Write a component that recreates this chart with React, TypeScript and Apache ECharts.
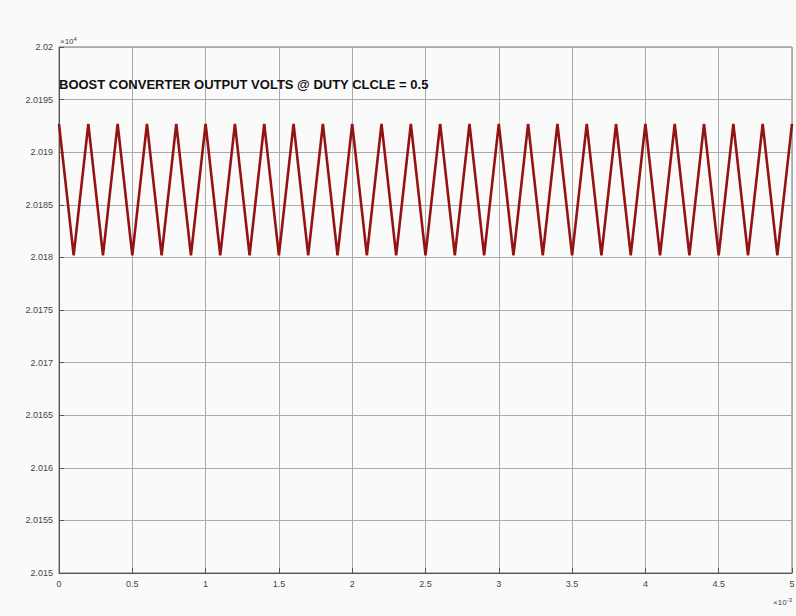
import React, { useEffect, useRef } from "react";
import * as echarts from "echarts";

// time in units of 1e-3 s (axis shows ×10^-3)
const timeMs = [
  0, 0.1, 0.2, 0.3, 0.4, 0.5, 0.6, 0.7, 0.8, 0.9,
  1.0, 1.1, 1.2, 1.3, 1.4, 1.5, 1.6, 1.7, 1.8, 1.9,
  2.0, 2.1, 2.2, 2.3, 2.4, 2.5, 2.6, 2.7, 2.8, 2.9,
  3.0, 3.1, 3.2, 3.3, 3.4, 3.5, 3.6, 3.7, 3.8, 3.9,
  4.0, 4.1, 4.2, 4.3, 4.4, 4.5, 4.6, 4.7, 4.8, 4.9,
  5.0,
];

// output voltage in volts (axis shows ×10^4)
const voltage = [
  20192.7, 20180.2, 20192.7, 20180.2, 20192.7, 20180.2, 20192.7, 20180.2, 20192.7, 20180.2,
  20192.7, 20180.2, 20192.7, 20180.2, 20192.7, 20180.2, 20192.7, 20180.2, 20192.7, 20180.2,
  20192.7, 20180.2, 20192.7, 20180.2, 20192.7, 20180.2, 20192.7, 20180.2, 20192.7, 20180.2,
  20192.7, 20180.2, 20192.7, 20180.2, 20192.7, 20180.2, 20192.7, 20180.2, 20192.7, 20180.2,
  20192.7, 20180.2, 20192.7, 20180.2, 20192.7, 20180.2, 20192.7, 20180.2, 20192.7, 20180.2,
  20192.7,
];

const titleText = "BOOST CONVERTER OUTPUT VOLTS @ DUTY CLCLE = 0.5";
const yExponent = "4";
const xExponent = "-3";

const FONT = "'Liberation Sans', Arial, Helvetica, sans-serif";

export default function App() {
  const ref = useRef<HTMLDivElement>(null);

  useEffect(() => {
    if (!ref.current) return;
    const chart = echarts.init(ref.current, undefined, { renderer: "svg" });
    const data = timeMs.map((t, i) => [t, voltage[i]]);
    chart.setOption({
      animation: false,
      backgroundColor: "#fbfafa",
      textStyle: { fontFamily: FONT },
      title: {
        text: titleText,
        left: 59,
        top: 78,
        padding: 0,
        textStyle: { fontSize: 13, fontWeight: "bold", color: "#111", fontFamily: FONT },
      },
      grid: {
        left: 59,
        top: 47,
        width: 733,
        height: 526,
        containLabel: false,
        outerBoundsMode: "none",
        show: true,
        borderColor: "#777",
        borderWidth: 1,
        backgroundColor: "transparent",
      },
      xAxis: {
        type: "value",
        min: 0,
        max: 5,
        interval: 0.5,
        axisLine: { show: true, lineStyle: { color: "#555", width: 1 } },
        axisTick: { show: true, inside: true, length: 5, lineStyle: { color: "#555" } },
        axisLabel: {
          color: "#444",
          fontSize: 9,
          margin: 6,
          fontFamily: FONT,
          formatter: (v: number) => String(Number(v.toFixed(2))),
        },
        splitLine: { show: true, lineStyle: { color: "#aaaaaa", width: 1 } },
      },
      yAxis: {
        type: "value",
        min: 20150,
        max: 20200,
        interval: 5,
        axisLine: { show: true, lineStyle: { color: "#555", width: 1 } },
        axisTick: { show: true, inside: true, length: 5, lineStyle: { color: "#555" } },
        axisLabel: {
          color: "#444",
          fontSize: 9,
          margin: 6,
          fontFamily: FONT,
          formatter: (v: number) => String(Number((v / 10000).toFixed(4))),
        },
        splitLine: { show: true, lineStyle: { color: "#aaaaaa", width: 1 } },
      },
      graphic: [
        {
          type: "text",
          left: 60,
          top: 36,
          style: {
            text: "×10{s|" + yExponent + "}",
            fontSize: 8,
            fill: "#444",
            fontFamily: FONT,
            rich: { s: { fontSize: 6, verticalAlign: "top", padding: [0, 0, 5, 0], fill: "#444" } },
          },
        },
        {
          type: "text",
          right: 4,
          top: 597,
          style: {
            text: "×10{s|" + xExponent + "}",
            fontSize: 8,
            fill: "#444",
            fontFamily: FONT,
            rich: { s: { fontSize: 6, verticalAlign: "top", padding: [0, 0, 5, 0], fill: "#444" } },
          },
        },
      ],
      series: [
        {
          type: "line",
          data,
          showSymbol: false,
          lineStyle: { color: "#951212", width: 2.6 },
          itemStyle: { color: "#951212" },
        },
      ],
    });
    return () => chart.dispose();
  }, []);

  return (
    <div
      ref={ref}
      style={{ position: "fixed", left: 0, top: 0, width: 796, height: 616 }}
    />
  );
}
